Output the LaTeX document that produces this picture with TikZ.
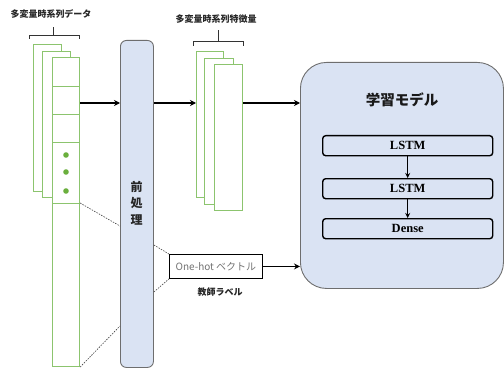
\documentclass[tikz,border=0pt]{standalone}
\usepackage{fontspec}
\setmainfont{Liberation Serif}
\newfontfamily\jp{Noto Sans CJK JP}
\usetikzlibrary{arrows.meta,calc}
\definecolor{gfill}{HTML}{DAE3F3}
\definecolor{gline}{HTML}{6E6E6E}
\definecolor{grn}{HTML}{8CC46E}
\definecolor{dotg}{HTML}{6AAF3D}
\tikzset{
  cell/.style={draw=grn, line width=1.1pt, fill=white, inner sep=0pt, anchor=north west},
  procbox/.style={draw=gline, line width=0.9pt, fill=gfill, inner sep=0pt, anchor=north west},
  layerbox/.style={draw=black, line width=1.4pt, fill=gfill, rounded corners=3pt, inner sep=0pt, anchor=north west,
    minimum width=170pt, minimum height=20pt, font=\fontsize{12.5}{14}\selectfont\bfseries},
  arr/.style={line width=1.5pt, -{Stealth[length=6pt,width=6pt]}},
  guide/.style={dash pattern=on 1.5pt off 1.2pt, line width=0.6pt, draw=black!75},
  brace/.style={draw=black!80, line width=0.9pt},
  jtitle/.style={font=\jp\bfseries\fontsize{9}{10}\selectfont, text=black!85}
}
\begin{document}
\begin{tikzpicture}[x=1pt,y=-1pt]
\useasboundingbox (0,0) rectangle (504,369);
% titles and braces
\node[jtitle] (t1) at (51,14) {多変量時系列データ};
\draw[brace] (29,39) -- (29,35) -- (79,35) -- (79,39);
\draw[brace] (53,35) -- (53,27);
\node[jtitle] (t2) at (216,19) {多変量時系列特徴量};
\draw[brace] (193,46) -- (193,41) -- (243,41) -- (243,46);
\draw[brace] (218,41) -- (218,30);
% input data stack
\node[cell, minimum width=28pt, minimum height=147pt] (dA) at (33,44) {};
\node[cell, minimum width=28pt, minimum height=146pt] (dB) at (42,51) {};
\node[cell, minimum width=27pt, minimum height=29pt] (c1) at (52,57) {};
\node[cell, minimum width=27pt, minimum height=28pt] (c2) at (52,86) {};
\node[cell, minimum width=27pt, minimum height=28pt] (c3) at (52,114) {};
\node[cell, minimum width=27pt, minimum height=61pt] (c4) at (52,142) {};
\node[cell, minimum width=27pt, minimum height=163pt] (c5) at (52,203) {};
\fill[dotg] (66,155) circle (2.8pt) (66,172) circle (2.8pt) (66,191) circle (2.8pt);
% preprocessing
\node[procbox, rounded corners=6pt, minimum width=33pt, minimum height=327pt] (pre) at (120,40) {};
\node[font=\jp\bfseries\fontsize{12}{16.5}\selectfont, align=center, text=black!85] (pret) at (136.5,203) {前\\処\\理};
% features
\node[cell, minimum width=27pt, minimum height=146pt] (fA) at (196,51) {};
\node[cell, minimum width=29pt, minimum height=146pt] (fB) at (204,58) {};
\node[cell, minimum width=28pt, minimum height=146pt] (fC) at (214,64) {};
% model
\node[procbox, rounded corners=26pt, minimum width=203pt, minimum height=226pt] (model) at (300,62) {};
\node[font=\jp\bfseries\fontsize{14.5}{16}\selectfont, text=black!90] (mt) at (402,100) {学習モデル};
\node[layerbox] (l1) at (322,135) {LSTM};
\node[layerbox] (l2) at (322,178) {LSTM};
\node[layerbox] (l3) at (322,218) {Dense};
\draw[line width=1.5pt, -{Stealth[length=5pt,width=5pt]}] (l1.south) -- (l2.north);
\draw[line width=1.5pt, -{Stealth[length=5pt,width=5pt]}] (l2.south) -- (l3.north);
% one-hot
\node[draw=black, line width=0.9pt, fill=white, anchor=north west, minimum width=93pt, minimum height=24pt, inner sep=0pt,
  font=\jp\fontsize{10}{11}\selectfont, text=black!55] (oh) at (169,254) {One-hot ベクトル};
\node[jtitle] (ohl) at (220,292) {教師ラベル};
% dashed guides
\draw[guide] (c5.north east) -- ($(pre.north west)+(0,186)$);
\draw[guide] (c5.south east) -- ($(pre.north west)+(0,286)$);
\draw[guide] ($(pre.north east)+(0,205)$) -- (oh.north west);
\draw[guide] ($(pre.north east)+(0,252)$) -- (oh.south west);
% arrows
\coordinate (ya) at (0,103);
\draw[arr] (c2.east |- ya) -- (pre.west |- ya);
\draw[arr] (pre.east |- ya) -- (fA.west |- ya);
\draw[arr] (fC.east |- ya) -- (model.west |- ya);
\draw[arr] (oh.east) -- (model.west |- oh.east);
\end{tikzpicture}
\end{document}
